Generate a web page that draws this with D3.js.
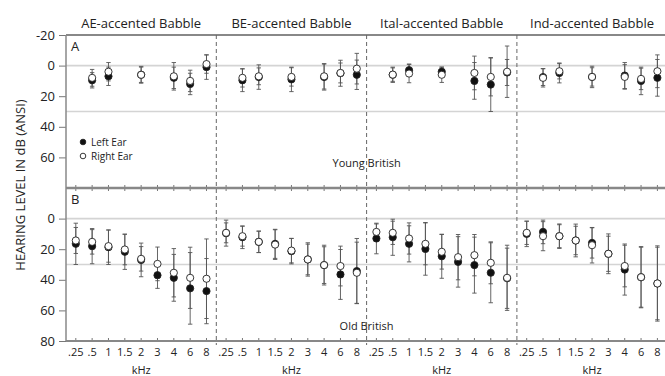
<!DOCTYPE html>
<html>
<head>
<meta charset="utf-8">
<script src="https://cdn.jsdelivr.net/npm/d3@7"></script>
<style>
  body { margin: 0; background: #fff; }
  svg text { font-family: 'Open Sans', sans-serif; fill: #222; }
</style>
</head>
<body>
<svg id="chart" width="665" height="376"></svg>
<script>
// Column titles and frequencies
const accents = ['AE-accented Babble', 'BE-accented Babble', 'Ital-accented Babble', 'Ind-accented Babble'];
const freqs = ['.25', '.5', '1', '1.5', '2', '3', '4', '6', '8'];

// Young British (panel A): one row per accent, one value per frequency (null = not tested)
const youngLeftMean = [
    [null, 9.6, 7, null, 6, null, 8, 12, 1],
    [null, 9.6, 7.5, null, 9, null, 7.5, 5, 6],
    [null, 6, 3, null, 4, null, 10, 12.4, 4.5],
    [null, 7.5, 4.8, null, 7.4, null, 6.5, 10, 8]
];
const youngLeftSD = [
    [null, 5, 6, null, 5.5, null, 7, 7, 8],
    [null, 7.4, 8, null, 8, null, 8.5, 8.5, 9.6],
    [null, 5, 4, null, 3, null, 12, 17.6, 8.5],
    [null, 5.5, 6.5, null, 7, null, 8.5, 9, 12]
];
const youngRightMean = [
    [null, 8, 4, null, 6, null, 7, 10, -1],
    [null, 8, 7, null, 7.4, null, 7, 4.8, 2],
    [null, 5.9, 5.2, null, 6, null, 4.8, 7.4, 4],
    [null, 8, 3.7, null, 7.4, null, 7.4, 8.7, 3.7]
];
const youngRightSD = [
    [null, 5.5, 6, null, 5, null, 9, 7, 6],
    [null, 6, 5.5, null, 6, null, 8.3, 6.5, 10],
    [null, 4.4, 6, null, 5, null, 11, 12.4, 16.8],
    [null, 6, 5, null, 6, null, 8, 7, 10.7]
];

// Old British (panel B)
const oldLeftMean = [
    [16.5, 18, 18.7, 21.7, 27, 37, 38.7, 45.6, 47.4],
    [9.5, 12.2, 15.2, 16.5, 21.3, 26.7, 30.4, 36.5, 34.3],
    [13, 12.2, 16.5, 19.8, 24.6, 28.3, 30.4, 35.4, 39],
    [10, 8.7, 11.5, 14.3, 15.9, 23, 33.3, 38.3, 42.4]
];
const oldLeftSD = [
    [13.5, 11.5, 11.3, 11.5, 11, 8.6, 15.3, 23.4, 21.3],
    [8.5, 7.4, 7, 9.5, 8.3, 10.9, 13, 16.3, 21.3],
    [10, 11.8, 11.8, 17.2, 14.4, 16.5, 18.3, 19.6, 19.7],
    [8.3, 7.7, 8, 9.3, 9.9, 11.5, 16.7, 19.6, 23.7]
];
const oldRightMean = [
    [14.3, 15.2, 18, 20.2, 26.3, 29.6, 35.4, 38.7, 39.3],
    [9.3, 11.5, 15.2, 17, 20.9, 26.7, 30.4, 31, 35.4],
    [8.7, 9.3, 13, 16.5, 21.7, 25.2, 23.9, 28.9, 38.7],
    [9.3, 11.5, 11.5, 14.3, 17.4, 23, 31, 38.3, 42.4]
];
const oldRightSD = [
    [8.5, 8, 10.5, 10, 8, 11, 15.8, 20, 26],
    [6.5, 6.5, 7, 9.7, 8, 10, 12, 13, 20],
    [5.2, 7.6, 10.2, 13.7, 11.3, 14.8, 13.5, 13.7, 21.3],
    [7.6, 9.5, 7.5, 10.7, 11.6, 13, 13.6, 20, 24.6]
];

const yTicksA = [-20, 0, 20, 40, 60];
const yTicksB = [0, 20, 40, 60, 80];
const refLines = [0, 30];

const svg = d3.select('#chart');

// Layout
const plotLeft = 66, colW = 150.3, plotTop = 35, panelH = 153;
const xCol = accents.map((a, i) => d3.scalePoint()
    .domain(freqs)
    .range([plotLeft + i * colW, plotLeft + (i + 1) * colW])
    .padding(0.6));

const yA = d3.scaleLinear().domain([-20, 80]).range([plotTop, plotTop + panelH]);
const yB = d3.scaleLinear().domain([-20, 80]).range([plotTop + panelH, plotTop + 2 * panelH]);
const plotRight = plotLeft + 4 * colW;

const panels = [
    { y: yA, ticks: yTicksA, lm: youngLeftMean, ls: youngLeftSD, rm: youngRightMean, rs: youngRightSD, label: 'A', group: 'Young British', groupAt: 66 },
    { y: yB, ticks: yTicksB, lm: oldLeftMean, ls: oldLeftSD, rm: oldRightMean, rs: oldRightSD, label: 'B', group: 'Old British', groupAt: 72.5 }
];

panels.forEach(p => {
    // Reference lines at 0 and 30 dB
    svg.append('g').selectAll('line')
        .data(refLines)
        .enter()
        .append('line')
        .attr('x1', plotLeft).attr('x2', plotRight)
        .attr('y1', d => p.y(d)).attr('y2', d => p.y(d))
        .attr('stroke', '#d4d4d4')
        .attr('stroke-width', 1.6);

    // Y axis (plain hyphen for negatives, as in the original)
    const ax = svg.append('g')
        .attr('transform', `translate(${plotLeft},0)`)
        .call(d3.axisLeft(p.y).tickValues(p.ticks).tickSize(7).tickPadding(4).tickFormat(d => String(d)));
    ax.select('.domain').remove();
    ax.selectAll('line').attr('stroke', '#777');
    ax.selectAll('text')
        .style('font-family', "'Open Sans', sans-serif")
        .style('font-size', '13px')
        .attr('fill', '#333');

    // Panel letter
    svg.append('text')
        .attr('x', plotLeft + 5)
        .attr('y', p.y(-20) + 16)
        .style('font-size', '13px')
        .text(p.label);

    // Group label, centered on the middle divider
    svg.append('text')
        .attr('x', xCol[2].range()[0])
        .attr('y', p.y(p.groupAt))
        .attr('text-anchor', 'middle')
        .style('font-size', '11px')
        .attr('fill', '#333')
        .text(p.group);

    // Error bars and markers for each accent
    accents.forEach((a, i) => {
        const pts = [];
        freqs.forEach((f, j) => {
            if (p.lm[i][j] !== null) pts.push({ f, ear: 'L', m: p.lm[i][j], sd: p.ls[i][j] });
        });
        freqs.forEach((f, j) => {
            if (p.rm[i][j] !== null) pts.push({ f, ear: 'R', m: p.rm[i][j], sd: p.rs[i][j] });
        });
        const g = svg.append('g');
        const bars = g.selectAll('.err')
            .data(pts)
            .enter()
            .append('g')
            .attr('class', 'err')
            .attr('stroke', '#555')
            .attr('stroke-width', 0.9);
        bars.append('line')
            .attr('x1', d => xCol[i](d.f)).attr('x2', d => xCol[i](d.f))
            .attr('y1', d => p.y(d.m - d.sd)).attr('y2', d => p.y(d.m + d.sd));
        bars.append('line')
            .attr('x1', d => xCol[i](d.f) - 2.2).attr('x2', d => xCol[i](d.f) + 2.2)
            .attr('y1', d => p.y(d.m - d.sd)).attr('y2', d => p.y(d.m - d.sd));
        bars.append('line')
            .attr('x1', d => xCol[i](d.f) - 2.2).attr('x2', d => xCol[i](d.f) + 2.2)
            .attr('y1', d => p.y(d.m + d.sd)).attr('y2', d => p.y(d.m + d.sd));

        g.selectAll('.dot')
            .data(pts)
            .enter()
            .append('circle')
            .attr('class', 'dot')
            .attr('cx', d => xCol[i](d.f))
            .attr('cy', d => p.y(d.m))
            .attr('r', 3.6)
            .attr('fill', d => d.ear === 'L' ? '#111' : '#fff')
            .attr('stroke', '#222')
            .attr('stroke-width', 0.9);
    });
});

// X tick marks on the panel divider and the bottom axis
xCol.forEach(x => {
    [yA(80), yB(80)].forEach(yy => {
        svg.append('g').selectAll('line')
            .data(freqs)
            .enter()
            .append('line')
            .attr('x1', d => x(d)).attr('x2', d => x(d))
            .attr('y1', yy - 3).attr('y2', yy + (yy === yA(80) ? 3 : 0))
            .attr('stroke', '#777');
    });

    // Frequency labels
    svg.append('g').selectAll('text')
        .data(freqs)
        .enter()
        .append('text')
        .attr('x', d => x(d))
        .attr('y', yB(80) + 15)
        .attr('text-anchor', 'middle')
        .style('font-size', '11px')
        .attr('fill', '#333')
        .text(d => d);

    const mid = (x.range()[0] + x.range()[1]) / 2;
    svg.append('text')
        .attr('x', mid)
        .attr('y', 374)
        .attr('text-anchor', 'middle')
        .style('font-size', '11px')
        .attr('fill', '#333')
        .text('kHz');
});

// Column titles
svg.append('g').selectAll('text')
    .data(accents)
    .enter()
    .append('text')
    .attr('x', (d, i) => plotLeft + (i + 0.5) * colW)
    .attr('y', 28)
    .attr('text-anchor', 'middle')
    .style('font-size', '13px')
    .text(d => d);

// Frame: top, divider, bottom and left lines
[[yA(-20), 2], [yA(80), 2.4], [yB(80), 2]].forEach(([yy, w]) => {
    svg.append('line')
        .attr('x1', plotLeft).attr('x2', plotRight)
        .attr('y1', yy).attr('y2', yy)
        .attr('stroke', '#888')
        .attr('stroke-width', w);
});
svg.append('line')
    .attr('x1', plotLeft).attr('x2', plotLeft)
    .attr('y1', yA(-20)).attr('y2', yB(80))
    .attr('stroke', '#888')
    .attr('stroke-width', 1.5);

// Dashed column dividers
svg.append('g').selectAll('line')
    .data([1, 2, 3])
    .enter()
    .append('line')
    .attr('x1', d => xCol[d].range()[0]).attr('x2', d => xCol[d].range()[0])
    .attr('y1', yA(-20)).attr('y2', yB(80) + 4)
    .attr('stroke', '#666')
    .attr('stroke-width', 1)
    .attr('stroke-dasharray', '4,3');

// Legend
const legend = [{ name: 'Left Ear', fill: '#111' }, { name: 'Right Ear', fill: '#fff' }];
const lg = svg.append('g').selectAll('g')
    .data(legend)
    .enter()
    .append('g')
    .attr('transform', (d, i) => `translate(83,${142 + i * 14})`);
lg.append('circle')
    .attr('r', 2.8)
    .attr('fill', d => d.fill)
    .attr('stroke', '#222')
    .attr('stroke-width', 0.9);
lg.append('text')
    .attr('x', 8)
    .attr('y', 3.5)
    .style('font-size', '10px')
    .attr('fill', '#333')
    .text(d => d.name);

// Y axis title
svg.append('text')
    .attr('transform', 'translate(25,185) rotate(-90)')
    .attr('text-anchor', 'middle')
    .style('font-size', '13px')
    .attr('fill', '#333')
    .text('HEARING LEVEL IN dB (ANSI)');
</script>
</body>
</html>
